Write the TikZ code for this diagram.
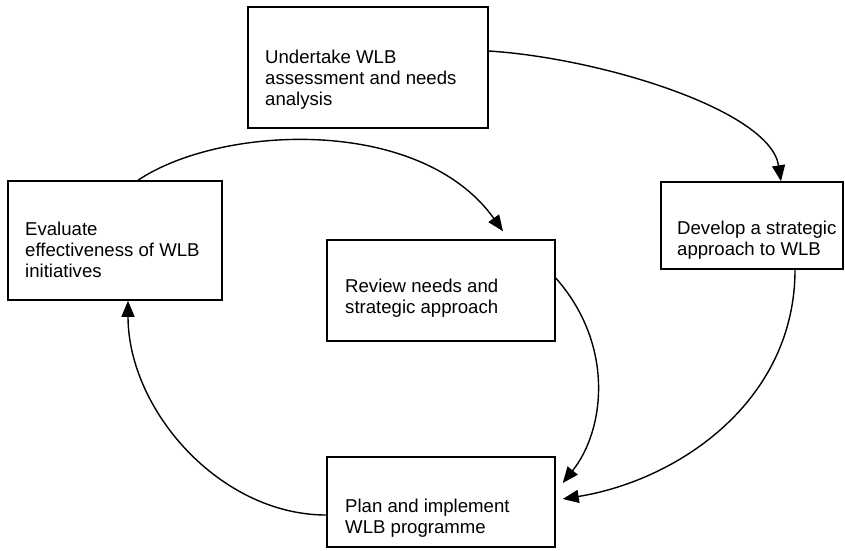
\documentclass[tikz,border=0pt]{standalone}
\usepackage{fontspec}
\setmainfont{Liberation Sans}
\usepackage{tikz}
\usetikzlibrary{arrows.meta}

\tikzset{
	stagebox/.style={draw, line width=1.5pt, inner sep=0pt},
	stagetext/.style={anchor=west, align=left, inner sep=0pt, font=\fontsize{18.6}{21}\selectfont},
	flow/.style={line width=1.4pt, -{Triangle[length=16pt,width=13pt]}}
}

\begin{document}
\begin{tikzpicture}[x=1pt,y=-1pt]
		\useasboundingbox (0,0) rectangle (845,550);
		
		\node [stagebox, minimum width=240pt, minimum height=121pt] (assess) at (368,67.5) {};
		\node [stagetext] (assess-t) at (265,80) {Undertake WLB\\assessment and needs\\analysis};
		
		\node [stagebox, minimum width=182pt, minimum height=87pt] (develop) at (752,225.5) {};
		\node [stagetext] (develop-t) at (677,240) {Develop a strategic\\approach to WLB};
		
		\node [stagebox, minimum width=214pt, minimum height=119pt] (evaluate) at (115,240.5) {};
		\node [stagetext] (evaluate-t) at (25,250) {Evaluate\\effectiveness of WLB\\initiatives};
		
		\node [stagebox, minimum width=228pt, minimum height=101pt] (review) at (441,290.5) {};
		\node [stagetext] (review-t) at (345,298.5) {Review needs and\\strategic approach};
		
		\node [stagebox, minimum width=228pt, minimum height=90pt] (plan) at (441,502) {};
		\node [stagetext] (plan-t) at (345,518) {Plan and implement\\WLB programme};
		
		% cycle
		\draw [flow] ([yshift=16.5pt]assess.east) .. controls (600,58) and (770,110) .. ([xshift=29pt]develop.north);
		\draw [flow] ([xshift=43pt]develop.south) .. controls (795,400) and (680,480) .. ([xshift=7pt,yshift=3pt]plan.east);
		\draw [flow] ([yshift=-13pt]plan.west) .. controls (220,515) and (128,410) .. ([xshift=13pt]evaluate.south);
		\draw [flow] ([xshift=23pt]evaluate.north) .. controls (220,125) and (420,115) .. ([xshift=62pt,yshift=8pt]review.north);
		\draw [flow] ([yshift=12.5pt]review.east) .. controls (615,345) and (605,430) .. ([xshift=7pt,yshift=19pt]plan.east);
\end{tikzpicture}
\end{document}
